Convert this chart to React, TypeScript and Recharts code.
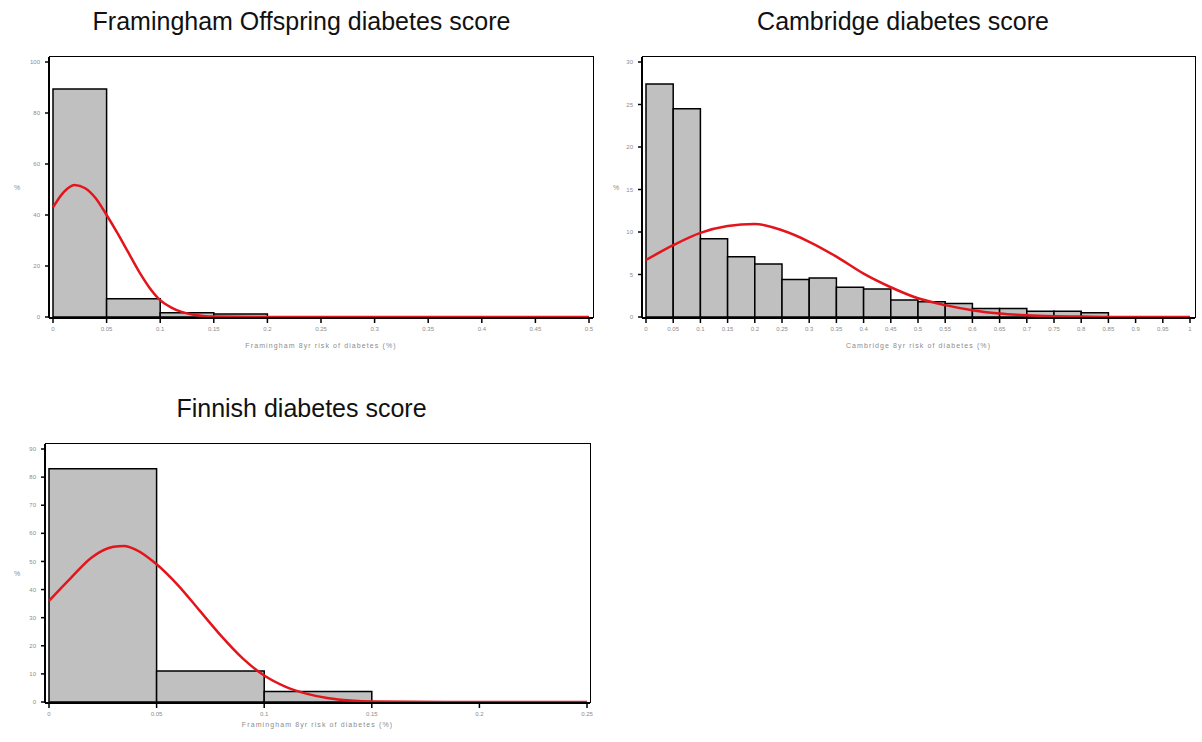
import React from "react";
import {
  ComposedChart,
  Line,
  ReferenceArea,
  XAxis,
  YAxis,
} from "recharts";

// Framingham Offspring
const framEdges = [0, 0.05, 0.1, 0.15, 0.2];
const framPct = [89.4, 7.2, 1.7, 1.2];
const framCurveX = [0, 0.01, 0.02, 0.03, 0.04, 0.05, 0.06, 0.07, 0.08, 0.09, 0.1, 0.11, 0.12, 0.13, 0.14, 0.15, 0.2, 0.3, 0.4, 0.5];
const framCurveY = [43, 49, 51.8, 50.5, 46.5, 40, 33, 25.5, 18, 11.5, 6.6, 3.8, 2, 1, 0.4, 0.15, 0, 0, 0, 0];
const framXTicks = [0, 0.05, 0.1, 0.15, 0.2, 0.25, 0.3, 0.35, 0.4, 0.45, 0.5];
const framYTicks = [0, 20, 40, 60, 80, 100];

// Cambridge
const cambEdges = [0, 0.05, 0.1, 0.15, 0.2, 0.25, 0.3, 0.35, 0.4, 0.45, 0.5, 0.55, 0.6, 0.65, 0.7, 0.75, 0.8, 0.85];
const cambPct = [27.4, 24.5, 9.2, 7.1, 6.25, 4.4, 4.6, 3.5, 3.3, 2.0, 1.8, 1.6, 1.0, 1.0, 0.67, 0.67, 0.5];
const cambCurveX = [0, 0.05, 0.1, 0.15, 0.2, 0.25, 0.3, 0.35, 0.4, 0.45, 0.5, 0.55, 0.6, 0.65, 0.7, 0.75, 0.8, 0.85, 0.9, 0.95, 1];
const cambCurveY = [6.7, 8.45, 9.9, 10.7, 10.95, 10.2, 8.85, 7.1, 5.1, 3.5, 2.2, 1.4, 0.8, 0.4, 0.2, 0.1, 0.05, 0, 0, 0, 0];
const cambXTicks = [0, 0.05, 0.1, 0.15, 0.2, 0.25, 0.3, 0.35, 0.4, 0.45, 0.5, 0.55, 0.6, 0.65, 0.7, 0.75, 0.8, 0.85, 0.9, 0.95, 1];
const cambYTicks = [0, 5, 10, 15, 20, 25, 30];

// Finnish
const finnEdges = [0, 0.05, 0.1, 0.15];
const finnPct = [83.0, 11.0, 3.75];
const finnCurveX = [0, 0.01, 0.02, 0.03, 0.035, 0.04, 0.05, 0.06, 0.07, 0.08, 0.09, 0.1, 0.11, 0.12, 0.13, 0.14, 0.15, 0.2, 0.25];
const finnCurveY = [36, 44, 51.5, 55.2, 55.5, 54.3, 49, 41.5, 32.5, 23.5, 15.5, 9.4, 5.4, 2.9, 1.3, 0.5, 0.15, 0, 0];
const finnXTicks = [0, 0.05, 0.1, 0.15, 0.2, 0.25];
const finnYTicks = [0, 10, 20, 30, 40, 50, 60, 70, 80, 90];

const tickStyle = { fontSize: 6, fill: "#8c8c8c" };
const smallLabel = { fontSize: 7, fill: "#8c8c8c", letterSpacing: 1.1 };

type HistProps = {
  left: number;
  top: number;
  width: number;
  height: number;
  margin: { top: number; right: number; bottom: number; left: number };
  yWidth: number;
  xHeight: number;
  edges: number[];
  pct: number[];
  curveX: number[];
  curveY: number[];
  xTicks: number[];
  yTicks: number[];
  xLabel: string;
  padX: { left: number; right: number };
};

const Histogram = (p: HistProps) => {
  const data = p.curveX.map((x, i) => ({ x, y: p.curveY[i] }));
  const xMax = p.xTicks[p.xTicks.length - 1];
  const yMax = p.yTicks[p.yTicks.length - 1];
  // plot box, used only for the top/right frame lines
  const boxLeft = p.margin.left + p.yWidth;
  const boxTop = p.margin.top;
  const boxW = p.width - p.margin.right - boxLeft;
  const boxH = p.height - p.margin.bottom - p.xHeight - boxTop;
  return (
    <div style={{ position: "absolute", left: p.left, top: p.top, width: p.width, height: p.height }}>
      <ComposedChart width={p.width} height={p.height} data={data} margin={p.margin}>
        <XAxis
          dataKey="x"
          type="number"
          domain={[0, xMax]}
          ticks={p.xTicks}
          interval={0}
          height={p.xHeight}
          padding={p.padX}
          tick={tickStyle}
          tickSize={5}
          tickMargin={4}
          axisLine={{ stroke: "#000", strokeWidth: 2 }}
          tickLine={{ stroke: "#000", strokeWidth: 1.5 }}
          label={{ value: p.xLabel, position: "insideBottom", offset: 0, ...smallLabel }}
        />
        <YAxis
          type="number"
          domain={[0, yMax]}
          ticks={p.yTicks}
          interval={0}
          width={p.yWidth}
          padding={{ top: 5, bottom: 1 }}
          tick={tickStyle}
          tickSize={4}
          tickMargin={5}
          axisLine={{ stroke: "#000", strokeWidth: 2 }}
          tickLine={{ stroke: "#000", strokeWidth: 1.5 }}
          label={{ value: "%", position: "insideLeft", offset: 5, fontSize: 7, fill: "#8c8c8c" }}
        />
        {p.pct.map((v, i) => (
          <ReferenceArea
            key={i}
            x1={p.edges[i]}
            x2={p.edges[i + 1]}
            y1={0}
            y2={v}
            fill="#c0c0c0"
            fillOpacity={1}
            stroke="#000"
            strokeWidth={1.5}
            ifOverflow="visible"
          />
        ))}
        <Line
          dataKey="y"
          type="monotone"
          dot={false}
          stroke="#e3141b"
          strokeWidth={2.5}
          isAnimationActive={false}
        />
      </ComposedChart>
      <div
        style={{
          position: "absolute",
          left: boxLeft,
          top: boxTop - 1,
          width: boxW,
          height: boxH,
          borderTop: "1.5px solid #000",
          borderRight: "1.5px solid #000",
          pointerEvents: "none",
        }}
      />
    </div>
  );
};

const titleStyle = (cx: number, top: number): React.CSSProperties => ({
  position: "absolute",
  left: cx - 300,
  width: 600,
  top,
  textAlign: "center",
  fontSize: 25,
  lineHeight: "25px",
  color: "#111",
});

export default function App() {
  return (
    <div
      style={{
        position: "absolute",
        left: 0,
        top: 0,
        width: 1202,
        height: 742,
        background: "#fff",
        overflow: "hidden",
        fontFamily: "'Liberation Sans', Arial, sans-serif",
      }}
    >
      <div style={titleStyle(301.5, 9)}>Framingham Offspring diabetes score</div>
      <div style={titleStyle(903, 9)}>Cambridge diabetes score</div>
      <div style={titleStyle(301.5, 396)}>Finnish diabetes score</div>

      <Histogram
        left={0}
        top={0}
        width={600}
        height={360}
        margin={{ top: 57, right: 7, bottom: 12, left: 9 }}
        yWidth={40}
        xHeight={30}
        edges={framEdges}
        pct={framPct}
        curveX={framCurveX}
        curveY={framCurveY}
        xTicks={framXTicks}
        yTicks={framYTicks}
        xLabel="Framingham 8yr risk of diabetes (%)"
        padX={{ left: 4, right: 4 }}
      />
      <Histogram
        left={600}
        top={0}
        width={602}
        height={360}
        margin={{ top: 57, right: 7, bottom: 12, left: 8 }}
        yWidth={34}
        xHeight={30}
        edges={cambEdges}
        pct={cambPct}
        curveX={cambCurveX}
        curveY={cambCurveY}
        xTicks={cambXTicks}
        yTicks={cambYTicks}
        xLabel="Cambridge 8yr risk of diabetes (%)"
        padX={{ left: 4, right: 5 }}
      />
      <Histogram
        left={0}
        top={380}
        width={600}
        height={362}
        margin={{ top: 64, right: 10, bottom: 15, left: 9 }}
        yWidth={36}
        xHeight={24}
        edges={finnEdges}
        pct={finnPct}
        curveX={finnCurveX}
        curveY={finnCurveY}
        xTicks={finnXTicks}
        yTicks={finnYTicks}
        xLabel="Framingham 8yr risk of diabetes (%)"
        padX={{ left: 4, right: 3 }}
      />
    </div>
  );
}
